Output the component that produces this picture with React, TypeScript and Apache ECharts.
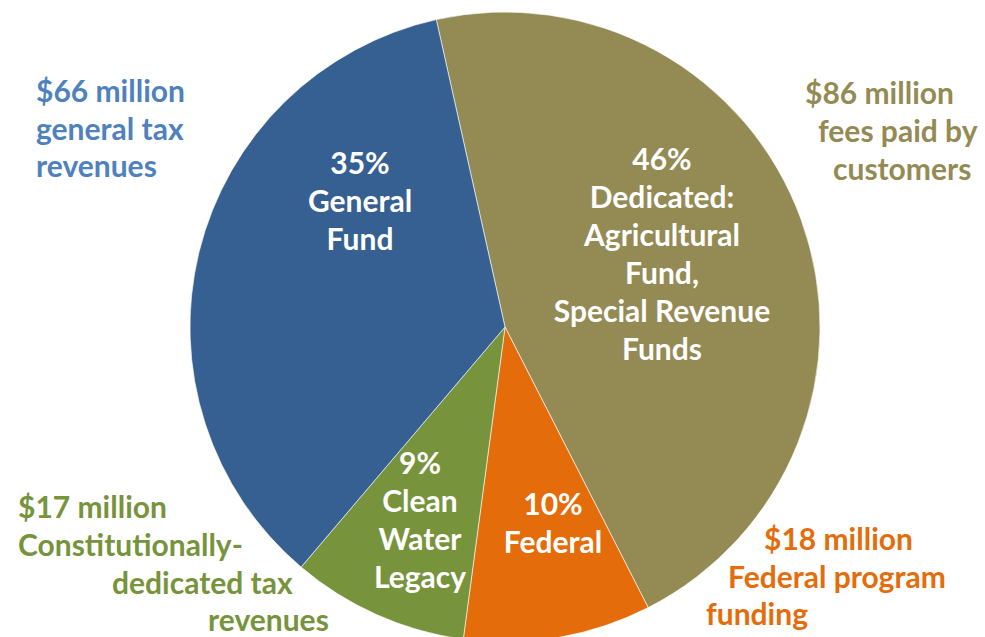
import React, { useEffect, useRef } from "react";
import * as echarts from "echarts";

const categories = ["Dedicated", "Federal", "Clean Water Legacy", "General Fund"];
const valuesMillions = [86, 18, 17, 66];
const innerLabelLines = [
  ["Dedicated:", "Agricultural", "Fund,", "Special Revenue", "Funds"],
  ["Federal"],
  ["Clean", "Water", "Legacy"],
  ["General", "Fund"],
];
const outerLabelLines = [
  ["fees paid by", "customers"],
  ["Federal program", "funding"],
  ["Constitutionally-", "dedicated tax", "revenues"],
  ["general tax", "revenues"],
];

const sliceColors = ["#948A54", "#E46C0A", "#77933C", "#376092"];
const outerTextColors = ["#948A54", "#E46C0A", "#77933C", "#4F81BD"];
// block centre of each inside label
const innerPos = [
  [662, 253],
  [553, 522],
  [420, 519],
  [360, 200],
];
// left x / centre y of each outer label line
const outerLinePos = [
  [[805, 92], [818, 130], [833, 168]],
  [[764, 538], [728, 576], [706, 613]],
  [[18, 506], [18, 544], [112, 582], [208, 619]],
  [[36, 90], [36, 128], [36, 165]],
];

const FONT = "Lato";
const FS = 30;

export default function App() {
  const ref = useRef<HTMLDivElement>(null);
  useEffect(() => {
    if (!ref.current) return;
    const chart = echarts.init(ref.current, null, { renderer: "svg" });
    const graphics: any[] = [];
    categories.forEach((_, i) => {
      const lines = [`$${valuesMillions[i]} million`, ...outerLabelLines[i]];
      lines.forEach((t, j) => {
        const p = outerLinePos[i][j];
        graphics.push({
          type: "text",
          x: p[0],
          y: p[1],
          style: {
            text: t,
            fill: outerTextColors[i],
            font: `bold ${FS}px ${FONT}`,
            textAlign: "left",
            textVerticalAlign: "middle",
          },
        });
      });
    });
    chart.setOption({
      animation: false,
      backgroundColor: "#ffffff",
      graphic: graphics,
      series: [
        {
          type: "pie",
          center: [505, 327],
          radius: [0, 315],
          startAngle: 102.6,
          clockwise: true,
          percentPrecision: 0,
          avoidLabelOverlap: false,
          itemStyle: { borderColor: "#ffffff", borderWidth: 0.6 },
          label: {
            show: true,
            position: "inside",
            color: "#ffffff",
            fontFamily: FONT,
            fontWeight: "bold",
            fontSize: FS,
            lineHeight: 38,
            align: "center",
            verticalAlign: "middle",
            formatter: (p: any) =>
              [`${p.percent}%`, ...innerLabelLines[p.dataIndex]].join("\n"),
          },
          labelLine: { show: false },
          labelLayout: (p: any) => ({
            x: innerPos[p.dataIndex][0],
            y: innerPos[p.dataIndex][1],
            align: "center",
            verticalAlign: "middle",
          }),
          data: categories.map((c, i) => ({
            name: c,
            value: valuesMillions[i],
            itemStyle: { color: sliceColors[i] },
          })),
        },
      ],
    });
    return () => chart.dispose();
  }, []);
  return (
    <div
      ref={ref}
      style={{ position: "fixed", left: 0, top: 0, width: 985, height: 637 }}
    />
  );
}
